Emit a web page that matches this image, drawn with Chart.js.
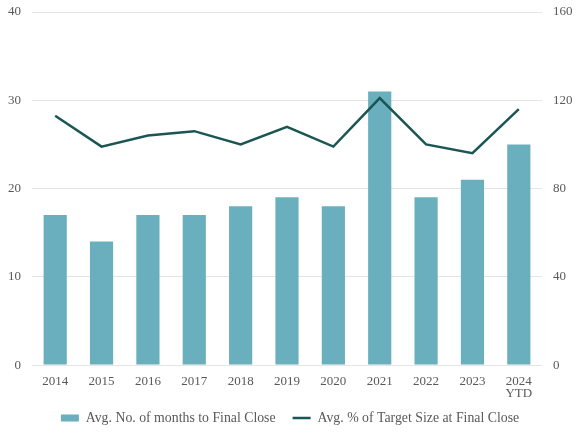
<!DOCTYPE html>
<html>
<head>
<meta charset="utf-8">
<script src="https://cdn.jsdelivr.net/npm/chart.js@4"></script>
<style>
  html, body { margin: 0; padding: 0; background: #fff; }
  #wrap { width: 580px; height: 435px; }
</style>
</head>
<body>
<div id="wrap"><canvas id="fund-close-chart"></canvas></div>
<script>
var years = ['2014', '2015', '2016', '2017', '2018', '2019', '2020', '2021', '2022', '2023', ['2024', 'YTD']];
var monthsToClose = [17, 14, 17, 17, 18, 19, 18, 31, 19, 21, 25];
var pctOfTarget = [113, 99, 104, 106, 100, 108, 99, 121, 100, 96, 116];
var leftTicks = [0, 10, 20, 30, 40];
var rightTicks = [0, 40, 80, 120, 160];

var barColor = '#6aafbd';
var lineColor = '#1b5654';
var textColor = '#595959';
var fontFamily = "'Liberation Serif', 'DejaVu Serif', serif";

// legend sits tight under the x labels: shrink its box for the layout,
// then stretch it back upward so it draws where it would have been
var legendHeight = 24;
var legendSqueeze = {
    id: 'legendSqueeze',
    beforeInit: function (chart) {
        var fit = chart.legend.fit;
        chart.legend.fit = function () {
            fit.call(this);
            this._squeeze = this.height - legendHeight;
            this.height = legendHeight;
        };
    },
    afterLayout: function (chart) {
        chart.legend.top -= chart.legend._squeeze;
    }
};

var context = document.getElementById('fund-close-chart').getContext('2d');
var fundChart = new Chart(context, {
    type: 'bar',
    data: {
        labels: years,
        datasets: [{
            type: 'bar',
            label: 'Avg. No. of months to Final Close',
            data: monthsToClose,
            backgroundColor: barColor,
            yAxisID: 'y',
            categoryPercentage: 1.0,
            barPercentage: 0.5,
            order: 1
        },
        {
            type: 'line',
            label: 'Avg. % of Target Size at Final Close',
            data: pctOfTarget,
            borderColor: lineColor,
            backgroundColor: lineColor,
            borderWidth: 2.5,
            pointRadius: 0,
            tension: 0,
            fill: false,
            yAxisID: 'y1',
            order: 0
        }]
    },
    plugins: [legendSqueeze],
    options: {
        responsive: true,
        maintainAspectRatio: false,
        animation: false,
        layout: { padding: { top: 0, left: 0, right: 0, bottom: 0 } },
        plugins: {
            tooltip: { enabled: false },
            legend: {
                position: 'bottom',
                labels: {
                    color: textColor,
                    font: { family: fontFamily, size: 13.8 },
                    usePointStyle: true,
                    pointStyleWidth: 18,
                    boxHeight: 7,
                    padding: 17,
                    sort: function (a, b) { return a.datasetIndex - b.datasetIndex; },
                    generateLabels: function (chart) {
                        var items = Chart.defaults.plugins.legend.labels.generateLabels(chart);
                        items.forEach(function (item) {
                            if (item.datasetIndex === 0) {
                                item.pointStyle = 'rect';
                                item.lineWidth = 0;
                            } else {
                                item.pointStyle = 'line';
                                item.lineWidth = 2.5;
                                item.strokeStyle = lineColor;
                            }
                        });
                        return items;
                    }
                }
            }
        },
        scales: {
            x: {
                grid: { display: false, drawTicks: false },
                border: { display: false },
                ticks: {
                    color: textColor,
                    font: { family: fontFamily, size: 13, lineHeight: 0.92 },
                    padding: 11,
                    maxRotation: 0,
                    autoSkip: false
                }
            },
            y: {
                position: 'left',
                min: 0,
                max: 40,
                afterBuildTicks: function (axis) {
                    axis.ticks = leftTicks.map(function (v) { return { value: v }; });
                },
                afterFit: function (axis) {
                    axis.width = 32;
                    axis.paddingTop = 12;
                },
                grid: { color: '#e4e4e4', lineWidth: 1, drawTicks: false },
                border: { display: false },
                ticks: {
                    color: textColor,
                    font: { family: fontFamily, size: 13 },
                    padding: 11
                }
            },
            y1: {
                position: 'right',
                min: 0,
                max: 160,
                afterBuildTicks: function (axis) {
                    axis.ticks = rightTicks.map(function (v) { return { value: v }; });
                },
                afterFit: function (axis) {
                    axis.width = 38;
                    axis.paddingTop = 12;
                },
                grid: { display: false, drawTicks: false },
                border: { display: false },
                ticks: {
                    color: textColor,
                    font: { family: fontFamily, size: 13 },
                    padding: 11
                }
            }
        }
    }
});
</script>
</body>
</html>
